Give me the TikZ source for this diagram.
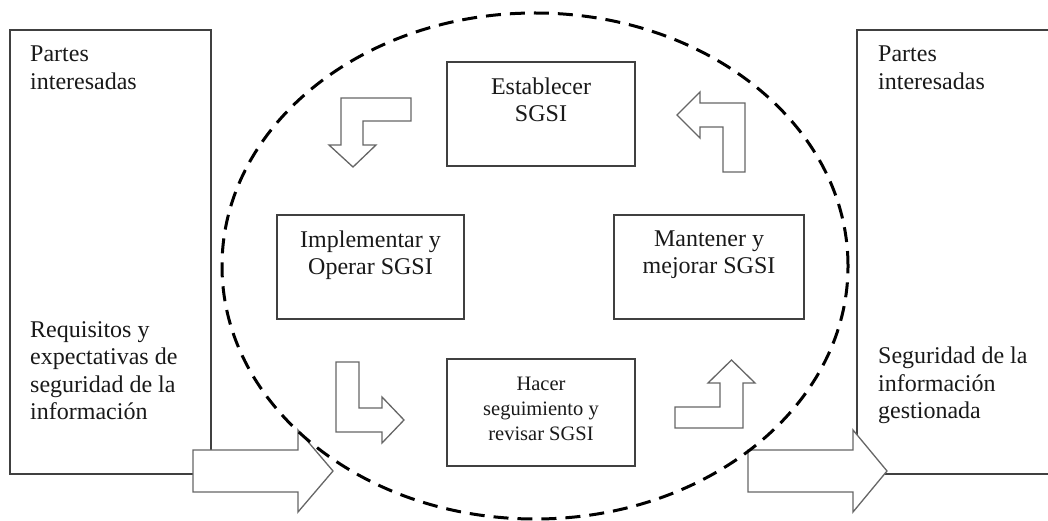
\documentclass[tikz,border=0pt]{standalone}
\usepackage{fontspec}
\setmainfont{Liberation Serif}
\usetikzlibrary{positioning, shapes.geometric}

\begin{document}
\begin{tikzpicture}[x=1pt, y=-1pt,
	caja/.style={rectangle, draw=black!75, line width=1.5pt, fill=white, inner sep=0pt},
	texto/.style={inner sep=0pt, text=black!90, font=\fontsize{24}{27.5}\selectfont},
	textochico/.style={inner sep=0pt, text=black!90, font=\fontsize{20.5}{25}\selectfont},
	flecha/.style={draw=black!60, line width=1.3pt, fill=white, line join=miter},
	ciclo/.style={ellipse, draw=black, line width=3pt, dash pattern=on 15pt off 9pt, inner sep=0pt}]

\useasboundingbox (0,0) rectangle (1048,521);

% Partes interesadas
\node[caja, minimum width=201pt, minimum height=444pt] (izq) at (110.5,252) {};
\node[caja, minimum width=220pt, minimum height=444pt] (der) at (967,252) {};

\node[texto, anchor=north west, align=left] (izqA) at (30,46) {Partes\\interesadas};
\node[texto, anchor=north west, align=left] (izqB) at (30,321) {Requisitos y\\expectativas de\\seguridad de la\\información};
\node[texto, anchor=north west, align=left] (derA) at (878,46) {Partes\\interesadas};
\node[texto, anchor=north west, align=left] (derB) at (878,347) {Seguridad de la\\información\\gestionada};

% Fases
\node[caja, minimum width=188pt, minimum height=104pt] (est) at (541,114) {};
\node[caja, minimum width=187pt, minimum height=104pt] (imp) at (370.5,267) {};
\node[caja, minimum width=190pt, minimum height=104pt] (man) at (709,267) {};
\node[caja, minimum width=188pt, minimum height=107pt] (hac) at (541,412.5) {};

\node[texto, align=center, below=16pt of est.north] (estT) {Establecer\\SGSI};
\node[texto, align=center, below=16pt of imp.north] (impT) {Implementar y\\Operar SGSI};
\node[texto, align=center, below=16pt of man.north] (manT) {Mantener y\\mejorar SGSI};
\node[textochico, align=center, below=19pt of hac.north] (hacT) {Hacer\\seguimiento y\\revisar SGSI};

% Flechas
\draw[flecha] (341,98) -- (411,98) -- (411,121) -- (363,121) -- (363,145) -- (376,145)
	-- (353,167) -- (329,145) -- (341,145) -- cycle;
\draw[flecha] (745,172) -- (723,172) -- (723,127) -- (700,127) -- (700,138) -- (677,115)
	-- (700,92) -- (700,103) -- (745,103) -- cycle;
\draw[flecha] (336,362) -- (359,362) -- (359,408) -- (382,408) -- (382,397) -- (404,420)
	-- (382,443) -- (382,432) -- (336,432) -- cycle;
\draw[flecha] (675,428) -- (743,428) -- (743,383) -- (755,383) -- (731.5,360) -- (708,383)
	-- (720,383) -- (720,407) -- (675,407) -- cycle;
\draw[flecha] (193,450) -- (298,450) -- (298,430) -- (333,471) -- (298,512) -- (298,492)
	-- (193,492) -- cycle;
\draw[flecha] (748,450) -- (853,450) -- (853,430) -- (887,471) -- (853,512) -- (853,492)
	-- (748,492) -- cycle;

% Ciclo
\node[ciclo, minimum width=626pt, minimum height=506pt] (pdca) at (535,266) {};
\end{tikzpicture}
\end{document}
